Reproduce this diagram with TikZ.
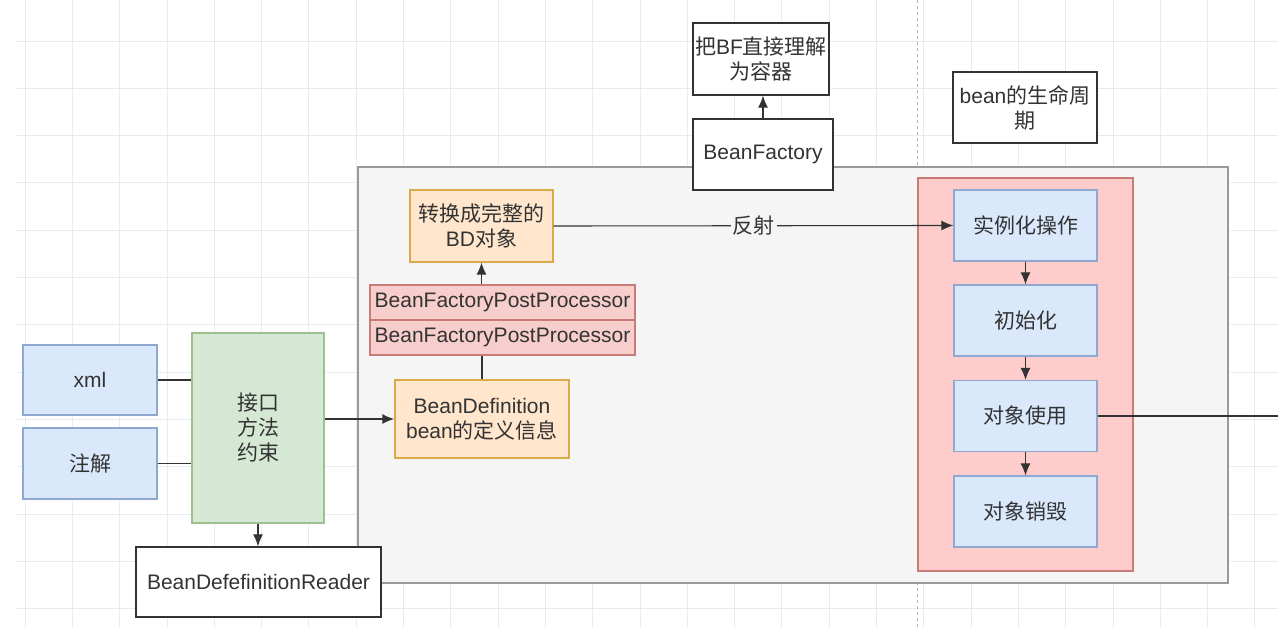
\documentclass[tikz,border=0pt]{standalone}
\usepackage{fontspec}
\setmainfont{Liberation Sans}
\newfontfamily\cjk{Noto Sans CJK SC}
\usetikzlibrary{arrows.meta}
\newcommand\zhtext[1]{{\cjk #1}}
\definecolor{txt}{HTML}{333333}
\definecolor{bluefill}{HTML}{DAE8FC}
\definecolor{blueline}{HTML}{8FA8CF}
\definecolor{greenfill}{HTML}{D5E8D4}
\definecolor{greenline}{HTML}{9DC08E}
\definecolor{orangefill}{HTML}{FFE6CC}
\definecolor{orangeline}{HTML}{D9A94A}
\definecolor{redfill}{HTML}{F8CECC}
\definecolor{redline}{HTML}{C97B78}
\definecolor{lifefill}{HTML}{FFCCCC}
\definecolor{contfill}{HTML}{F5F5F5}
\definecolor{contline}{HTML}{9A9A9A}
\definecolor{gridc}{HTML}{E9ECEF}
\tikzset{
  box/.style={draw=txt, fill=white, line width=1.3pt, inner sep=0pt, align=center,
    text=txt, font=\fontsize{21}{25}\selectfont},
  bluebox/.style={box, draw=blueline, fill=bluefill},
  greenbox/.style={box, draw=greenline, fill=greenfill},
  orangebox/.style={box, draw=orangeline, fill=orangefill},
  redbox/.style={box, draw=redline, fill=redfill},
  conn/.style={draw=txt, line width=1.1pt},
  arr/.style={conn, -{Latex[length=12pt,width=10pt]}},
  gridline/.style={draw=gridc, line width=0.8pt}
}
\begin{document}
\begin{tikzpicture}[x=1pt,y=-1pt]
\useasboundingbox (0,0) rectangle (1278,628);
\fill[white] (0,0) rectangle (1278,628);
% grid
\foreach \x in {25,72.3,...,1278} \draw[gridline] (\x,0) -- (\x,628);
\foreach \y in {41,88.3,...,628} \draw[gridline] (17,\y) -- (1278,\y);
\draw[contline!70, dashed, line width=0.8pt] (917,0) -- (917,628);
% big container
\node[draw=contline, fill=contfill, line width=1.5pt, minimum width=870pt, minimum height=416pt, inner sep=0pt] (main) at (793,375) {};
% top boxes
\node[box, minimum width=136pt, minimum height=72pt] (cont) at (761,59) {\zhtext{把}BF\zhtext{直接理解}\\\zhtext{为容器}};
\node[box, minimum width=140pt, minimum height=71pt] (bf) at (763,154.5) {BeanFactory};
\node[box, minimum width=144pt, minimum height=71pt] (life) at (1025,107.5) {bean\zhtext{的生命周}\\\zhtext{期}};
% inside left part
\node[orangebox, minimum width=143pt, minimum height=72pt] (conv) at (481.5,226) {\zhtext{转换成完整的}\\BD\zhtext{对象}};
\node[redbox, minimum width=265pt, minimum height=35pt] (bfpp1) at (502.5,302.5) {BeanFactoryPostProcessor};
\node[redbox, minimum width=265pt, minimum height=35pt] (bfpp2) at (502.5,337.5) {BeanFactoryPostProcessor};
\node[orangebox, minimum width=174pt, minimum height=78pt] (bd) at (482,419) {BeanDefinition\\bean\zhtext{的定义信息}};
% left side
\node[bluebox, minimum width=134pt, minimum height=70pt] (xml) at (90,380) {xml};
\node[bluebox, minimum width=134pt, minimum height=71pt] (anno) at (90,463.5) {\zhtext{注解}};
\node[greenbox, minimum width=132pt, minimum height=190pt] (iface) at (258,428) {\zhtext{接口}\\\zhtext{方法}\\\zhtext{约束}};
\node[box, minimum width=245pt, minimum height=70pt] (reader) at (258.5,582) {BeanDefefinitionReader};
% lifecycle
\node[draw=redline, fill=lifefill, line width=1.3pt, minimum width=215pt, minimum height=393pt, inner sep=0pt] (life2) at (1025.5,374.5) {};
\node[bluebox, minimum width=143pt, minimum height=71pt] (s1) at (1025.5,225.5) {\zhtext{实例化操作}};
\node[bluebox, minimum width=143pt, minimum height=71pt] (s2) at (1025.5,320.5) {\zhtext{初始化}};
\node[bluebox, minimum width=143pt, minimum height=71pt] (s3) at (1025.5,416) {\zhtext{对象使用}};
\node[bluebox, minimum width=143pt, minimum height=71pt] (s4) at (1025.5,511.5) {\zhtext{对象销毁}};
\coordinate (rightend) at (1278,416);
% connectors
\draw[conn] (xml.east) -- (iface.west |- xml.east);
\draw[conn] (anno.east) -- (iface.west |- anno.east);
\draw[arr, line width=1.6pt] (iface.east |- bd.west) -- (bd.west);
\draw[arr] (iface.south) -- (reader.north -| iface.south);
\draw[conn] (bd.north) -- (bfpp2.south -| bd.north);
\draw[arr] (bfpp1.north -| conv.south) -- (conv.south);
\draw[arr] (conv.east) -- node[fill=contfill, inner sep=2pt, text=txt, font=\fontsize{21}{25}\selectfont\cjk] {反射} (s1.west);
\draw[arr] (bf.north) -- (cont.south -| bf.north);
\draw[arr] (s1) -- (s2);
\draw[arr] (s2) -- (s3);
\draw[arr] (s3) -- (s4);
\draw[conn] (s3.east) -- (rightend);
\end{tikzpicture}
\end{document}
